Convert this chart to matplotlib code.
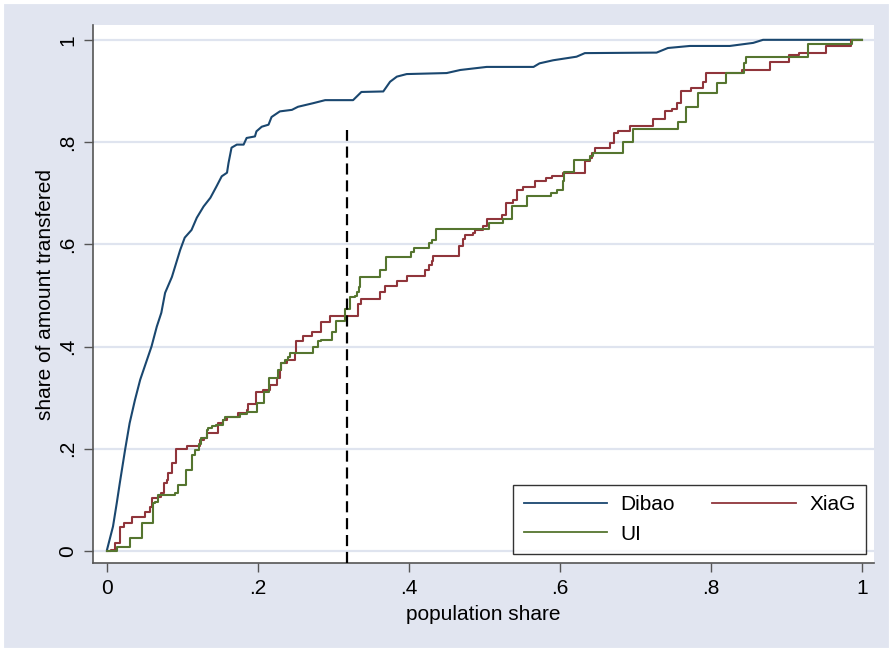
import numpy as np
import matplotlib
matplotlib.use("Agg")
import matplotlib.pyplot as plt
from matplotlib.patches import Rectangle

plt.rcParams["font.family"] = ["Liberation Sans", "DejaVu Sans"]

# cumulative share curves (population share, share of amount transfered)
dibao_x = [0.0, 0.0, 0.008, 0.013, 0.017, 0.024, 0.030, 0.037, 0.044, 0.053, 0.059,
           0.066, 0.072, 0.077, 0.086, 0.097, 0.103, 0.112, 0.119, 0.128, 0.137,
           0.145, 0.152, 0.159, 0.161, 0.165, 0.172, 0.181, 0.185, 0.196, 0.198, 0.205,
           0.214, 0.218, 0.229, 0.245, 0.253, 0.273, 0.289, 0.326, 0.337, 0.366, 0.375,
           0.384, 0.397, 0.450, 0.468, 0.503, 0.565, 0.573, 0.591, 0.622, 0.633, 0.728,
           0.743, 0.772, 0.825, 0.856, 0.869, 1.0]
dibao_y = [0.0, 0.002, 0.048, 0.094, 0.133, 0.198, 0.250, 0.295, 0.335, 0.374, 0.400,
           0.439, 0.466, 0.505, 0.536, 0.589, 0.613, 0.628, 0.652, 0.674, 0.691,
           0.713, 0.733, 0.740, 0.759, 0.789, 0.795, 0.795, 0.808, 0.811, 0.821, 0.830,
           0.834, 0.849, 0.860, 0.863, 0.869, 0.876, 0.882, 0.882, 0.898, 0.899, 0.918,
           0.928, 0.933, 0.935, 0.941, 0.947, 0.947, 0.954, 0.960, 0.967, 0.974, 0.975,
           0.984, 0.988, 0.988, 0.994, 1.0, 1.0]

xiag_x = [0.0, 0.006, 0.011, 0.017, 0.022, 0.033, 0.050, 0.057, 0.059, 0.068, 0.072,
          0.075, 0.079, 0.081, 0.086, 0.092, 0.106, 0.123, 0.128, 0.132, 0.147,
          0.154, 0.159, 0.174, 0.185, 0.187, 0.198, 0.207, 0.216, 0.225, 0.229,
          0.231, 0.238, 0.249, 0.251, 0.260, 0.271, 0.284, 0.295, 0.333, 0.337,
          0.362, 0.368, 0.384, 0.397, 0.421, 0.426, 0.430, 0.432, 0.466, 0.472,
          0.474, 0.485, 0.487, 0.498, 0.503, 0.523, 0.529, 0.538, 0.543, 0.551,
          0.567, 0.582, 0.589, 0.604, 0.633, 0.640, 0.642, 0.646, 0.666, 0.671,
          0.677, 0.693, 0.723, 0.739, 0.748, 0.755, 0.760, 0.773, 0.789, 0.794,
          0.841, 0.878, 0.904, 0.916, 0.953, 0.985, 1.0]
xiag_y = [0.0, 0.002, 0.016, 0.047, 0.055, 0.067, 0.076, 0.086, 0.104, 0.106, 0.114,
          0.133, 0.139, 0.153, 0.172, 0.200, 0.205, 0.217, 0.221, 0.231, 0.250,
          0.256, 0.263, 0.270, 0.276, 0.288, 0.312, 0.314, 0.325, 0.339, 0.354,
          0.368, 0.374, 0.387, 0.411, 0.421, 0.429, 0.447, 0.459, 0.483, 0.493,
          0.507, 0.518, 0.528, 0.537, 0.549, 0.560, 0.568, 0.577, 0.596, 0.611,
          0.618, 0.622, 0.628, 0.635, 0.649, 0.658, 0.681, 0.687, 0.706, 0.713,
          0.723, 0.729, 0.733, 0.739, 0.762, 0.768, 0.778, 0.788, 0.798, 0.817,
          0.822, 0.832, 0.845, 0.860, 0.864, 0.877, 0.899, 0.905, 0.918, 0.935,
          0.941, 0.957, 0.970, 0.974, 0.987, 0.999, 1.0]

ui_x = [0.0, 0.013, 0.030, 0.046, 0.061, 0.064, 0.068, 0.090, 0.094, 0.105, 0.112,
        0.117, 0.122, 0.125, 0.132, 0.134, 0.139, 0.145, 0.154, 0.157, 0.176,
        0.185, 0.199, 0.208, 0.214, 0.227, 0.231, 0.236, 0.240, 0.242, 0.273,
        0.280, 0.284, 0.298, 0.304, 0.315, 0.322, 0.328, 0.331, 0.334, 0.335,
        0.362, 0.370, 0.403, 0.407, 0.426, 0.430, 0.436, 0.506, 0.524, 0.536,
        0.556, 0.588, 0.596, 0.604, 0.605, 0.619, 0.640, 0.644, 0.683, 0.697,
        0.756, 0.767, 0.783, 0.808, 0.820, 0.844, 0.847, 0.928, 0.987, 1.0]
ui_y = [0.0, 0.008, 0.025, 0.054, 0.093, 0.095, 0.110, 0.114, 0.129, 0.159, 0.188,
        0.198, 0.209, 0.221, 0.237, 0.241, 0.245, 0.247, 0.256, 0.263, 0.268,
        0.271, 0.289, 0.312, 0.338, 0.354, 0.368, 0.374, 0.380, 0.387, 0.399,
        0.410, 0.413, 0.429, 0.449, 0.473, 0.496, 0.498, 0.507, 0.517, 0.536,
        0.549, 0.576, 0.584, 0.592, 0.603, 0.609, 0.630, 0.641, 0.649, 0.674,
        0.695, 0.700, 0.706, 0.723, 0.742, 0.764, 0.772, 0.779, 0.801, 0.825,
        0.840, 0.869, 0.895, 0.916, 0.935, 0.954, 0.967, 0.992, 0.999, 1.0]

cutoff_x = 0.318
cutoff_top = 0.824

x_ticks = [0, 0.2, 0.4, 0.6, 0.8, 1]
x_ticklabels = ["0", ".2", ".4", ".6", ".8", "1"]
y_ticks = [0, 0.2, 0.4, 0.6, 0.8, 1]
y_ticklabels = ["0", ".2", ".4", ".6", ".8", "1"]

BG = "#e1e5f0"
GRID = "#dfe4ef"
AXC = "#555555"
FS = 15

fig = plt.figure(figsize=(8.92, 6.51), dpi=100, facecolor=BG)
# thin white frame round the graph region
fig.patches.append(Rectangle((1.5 / 892, 1.5 / 651), 889 / 892, 648 / 651,
                             transform=fig.transFigure, facecolor="none",
                             edgecolor="white", lw=3, zorder=-1))

ax = fig.add_axes([93 / 892, 1 - 563 / 651, 781 / 892, 538 / 651])
ax.set_facecolor("white")

# Dibao has many small steps: trace it as a line through the read points
h_dibao, = ax.plot(dibao_x, dibao_y, color="#1a476f", lw=1.5, label="Dibao")
h_xiag, = ax.plot(xiag_x, xiag_y, drawstyle="steps-post", color="#90353b", lw=1.5, label="XiaG")
h_ui, = ax.plot(ui_x, ui_y, drawstyle="steps-post", color="#55752f", lw=1.5, label="UI")

ax.set_xlim(-0.0185, 1.016)
ax.set_ylim(-0.0235, 1.029)

ax.plot([cutoff_x, cutoff_x], [-0.0235, cutoff_top], color="black", lw=1.6,
        dashes=(5, 2.6), zorder=4)

ax.yaxis.grid(True, color=GRID, lw=1.6)
ax.set_axisbelow(True)

ax.set_xticks(x_ticks)
ax.set_xticklabels(x_ticklabels)
ax.set_yticks(y_ticks)
ax.set_yticklabels(y_ticklabels, rotation=90, va="center")

for s in ["top", "right"]:
    ax.spines[s].set_visible(False)
for s in ["left", "bottom"]:
    ax.spines[s].set_color(AXC)
    ax.spines[s].set_linewidth(1.2)

ax.tick_params(axis="both", direction="out", length=6.5, width=1.0, color=AXC,
               labelsize=FS, pad=5, labelcolor="black")

ax.set_xlabel("population share", fontsize=FS, labelpad=5)
ax.set_ylabel("share of amount transfered", fontsize=FS, labelpad=2)

# column-wise fill so the rows read Dibao, XiaG / UI
leg = ax.legend([h_dibao, h_ui, h_xiag], ["Dibao", "UI", "XiaG"], ncol=2,
                loc="lower right", bbox_to_anchor=(0.9898, 0.0167),
                fontsize=FS, frameon=True, fancybox=False, borderaxespad=0,
                handlelength=4.0, handletextpad=0.65, columnspacing=1.8,
                borderpad=0.5, labelspacing=0.5)
leg.get_frame().set_edgecolor("black")
leg.get_frame().set_linewidth(1.0)
for ln in leg.get_lines():
    ln.set_linewidth(1.3)

fig.savefig("out.png", dpi=100, facecolor=fig.get_facecolor())
